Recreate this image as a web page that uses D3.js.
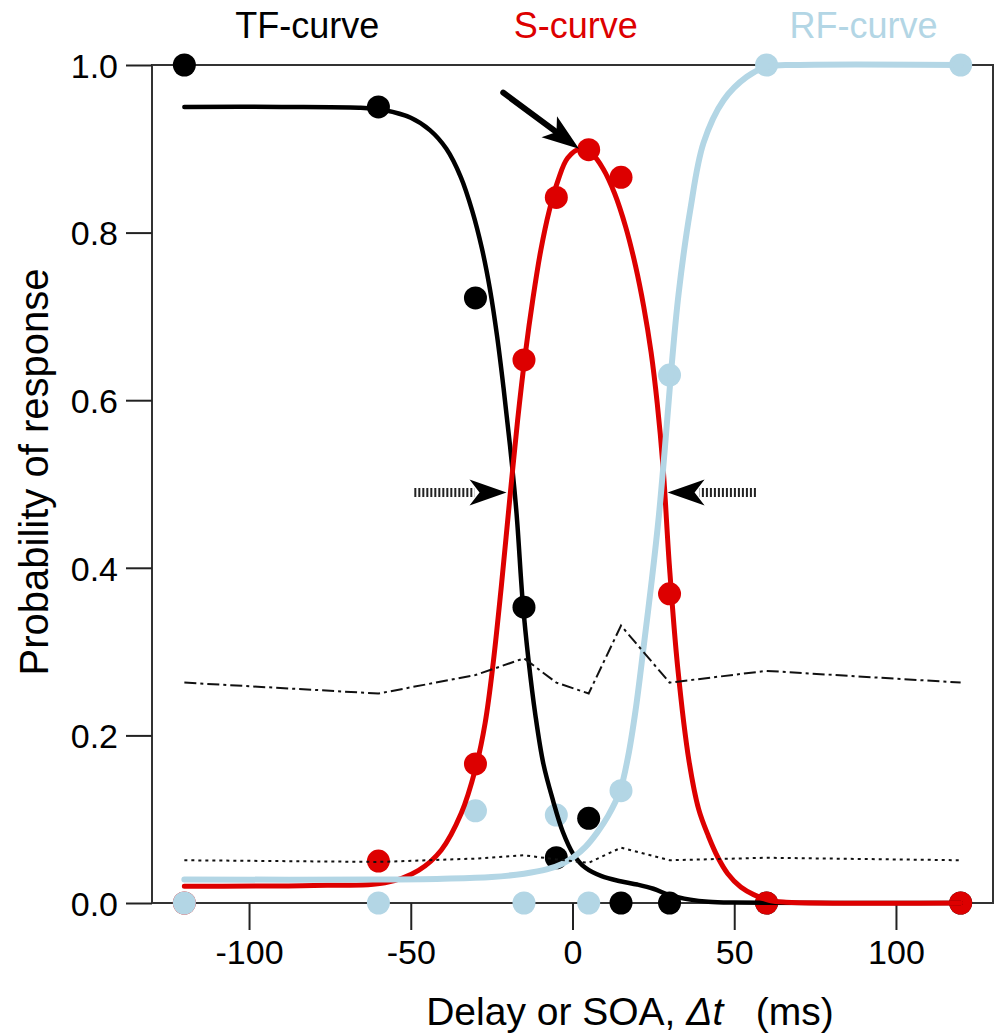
<!DOCTYPE html>
<html>
<head>
<meta charset="utf-8">
<script src="https://cdn.jsdelivr.net/npm/d3@7"></script>
<style>
  html, body { margin: 0; padding: 0; background: #fff; }
  svg { display: block; font-family: "Liberation Sans", Arial, Helvetica, sans-serif; }
</style>
</head>
<body>
<svg id="chart" width="1000" height="1033"></svg>
<script>
// ---------------- data ----------------
const soa = [-120, -60, -30, -15, -5, 5, 15, 30, 60, 120];
const tfPoints = [1.0, 0.95, 0.722, 0.353, 0.054, 0.101, 0.0, 0.0, 0.0, 0.0];
const sPoints  = [0.0, 0.050, 0.166, 0.648, 0.842, 0.899, 0.866, 0.369, 0.0, 0.0];
const rfPoints = [0.0, 0.0, 0.110, 0.0, 0.105, 0.0, 0.134, 0.630, 1.0, 1.0];

// fitted curves
const tfCurveX = [-120, -90, -66, -58, -50, -44, -39, -34.5, -31, -28, -25.5, -23.3, -21.3, -19.3, -17.3, -15.4, -13.6, -11.5, -9, -6, -3, 0.3, 4, 9, 14.8, 20, 25, 30, 36.4, 42, 50, 120];
const tfCurveY = [0.950, 0.950, 0.949, 0.946, 0.937, 0.922, 0.900, 0.866, 0.826, 0.781, 0.732, 0.676, 0.614, 0.545, 0.465, 0.360, 0.290, 0.225, 0.166, 0.122, 0.085, 0.058, 0.042, 0.032, 0.026, 0.022, 0.017, 0.0095, 0.004, 0.0015, 0.0005, 0.0];

const sCurveX = [-120, -80, -58, -47.6, -40.6, -34.4, -30, -27, -24.5, -22, -19.5, -17, -14.6, -12.2, -9.8, -7.2, -4.5, -1.5, 2.5, 6, 9.5, 13, 16.5, 19.5, 22, 24.3, 26.2, 28, 30, 32.5, 36, 39, 42, 45, 48, 52, 56, 61, 66, 120];
const sCurveY = [0.020, 0.021, 0.024, 0.039, 0.063, 0.107, 0.160, 0.215, 0.287, 0.378, 0.478, 0.575, 0.655, 0.722, 0.779, 0.826, 0.862, 0.889, 0.900, 0.894, 0.876, 0.847, 0.806, 0.760, 0.712, 0.657, 0.596, 0.520, 0.400, 0.282, 0.170, 0.112, 0.080, 0.054, 0.035, 0.019, 0.010, 0.003, 0.001, 0.0];

const rfCurveX = [-120, -60, -40, -25, -15, -8, -3, 0.4, 4, 7.6, 11, 14.7, 17.2, 19.5, 22, 24.5, 26.7, 28.5, 30.4, 32.8, 36.4, 40.5, 46.7, 53.9, 60.1, 70, 120];
const rfCurveY = [0.028, 0.028, 0.029, 0.031, 0.035, 0.040, 0.047, 0.055, 0.067, 0.084, 0.104, 0.134, 0.175, 0.230, 0.306, 0.385, 0.462, 0.540, 0.630, 0.727, 0.827, 0.907, 0.958, 0.986, 0.998, 1.0, 1.0];

// confidence-type reference lines
const upperLineY = [0.263, 0.250, 0.272, 0.292, 0.263, 0.250, 0.331, 0.263, 0.277, 0.263];
const lowerLineY = [0.051, 0.049, 0.053, 0.057, 0.052, 0.048, 0.066, 0.051, 0.054, 0.051];

const xTicks = [-100, -50, 0, 50, 100];
const yTicks = [0.0, 0.2, 0.4, 0.6, 0.8, 1.0];

const seriesLabels = [
  { text: "TF-curve", x: -82, color: "#000000" },
  { text: "S-curve",  x: 1,   color: "#dd0000" },
  { text: "RF-curve", x: 90,  color: "#b3d6e5" }
];

// annotation arrows, in data units
const bigArrow = { x1: -21.4, y1: 0.967, x2: 2.0, y2: 0.900 };
const halfArrows = [
  { x1: -48.9, x2: -20.4, y: 0.49 },
  { x1: 56.7,  x2: 29.4,  y: 0.49 }
];

// ---------------- drawing ----------------
const RED = "#dd0000", BLUE = "#b3d6e5", BLACK = "#000000";
const svg = d3.select("#chart");
const x = d3.scaleLinear().domain([-130, 130]).range([152, 993]);
const y = d3.scaleLinear().domain([0, 1]).range([903, 65]);

// frame
svg.append("rect")
  .attr("x", x(-130)).attr("y", y(1))
  .attr("width", x(130) - x(-130)).attr("height", y(0) - y(1))
  .attr("fill", "none").attr("stroke", "#333").attr("stroke-width", 2);

// axes
const xAxis = svg.append("g").attr("transform", `translate(0,${y(0)})`)
  .call(d3.axisBottom(x).tickValues(xTicks).tickSize(27).tickPadding(10).tickFormat(d => String(d)));
const yAxis = svg.append("g").attr("transform", `translate(${x(-130)},0)`)
  .call(d3.axisLeft(y).tickValues(yTicks).tickSize(26).tickPadding(8).tickFormat(d => d.toFixed(1)));
[xAxis, yAxis].forEach(g => {
  g.select(".domain").remove();
  g.selectAll(".tick line").attr("stroke", "#222").attr("stroke-width", 2);
  g.selectAll(".tick text").attr("fill", "#000").style("font-size", "34px")
    .style("font-family", "'Liberation Sans', Arial, sans-serif");
});
yAxis.selectAll(".tick text").attr("dy", "0.36em");

// axis titles
svg.append("text")
  .attr("x", 630).attr("y", 1025)
  .attr("text-anchor", "middle")
  .style("font-size", "39px")
  .html('Delay or SOA, <tspan font-style="italic">\u0394t</tspan>\u00a0\u00a0\u00a0(ms)');
svg.append("text")
  .attr("transform", `translate(48,${472}) rotate(-90)`)
  .attr("text-anchor", "middle")
  .style("font-size", "40px")
  .text("Probability of response");

// series labels
seriesLabels.forEach(l => {
  svg.append("text").attr("x", x(l.x)).attr("y", 38)
    .attr("text-anchor", "middle").attr("fill", l.color)
    .style("font-size", "36px").text(l.text);
});

const line = d3.line().x(d => x(d[0])).y(d => y(d[1])).curve(d3.curveCatmullRom.alpha(0.5));
const zip = (a, b) => a.map((v, i) => [v, b[i]]);

// data dots
const dotSets = [[tfPoints, BLACK], [sPoints, RED], [rfPoints, BLUE]];
dotSets.forEach(([vals, c]) => {
  svg.append("g").selectAll("circle").data(zip(soa, vals)).join("circle")
    .attr("cx", d => x(d[0])).attr("cy", d => y(d[1])).attr("r", 11.5).attr("fill", c);
});

// fitted curves
[[tfCurveX, tfCurveY, BLACK, 4.5], [sCurveX, sCurveY, RED, 5], [rfCurveX, rfCurveY, BLUE, 6]].forEach(([xs, ys, c, w]) => {
  svg.append("path").datum(zip(xs, ys)).attr("d", line)
    .attr("fill", "none").attr("stroke", c).attr("stroke-width", w)
    .attr("stroke-linecap", "round").attr("stroke-linejoin", "round");
});

// reference lines
const poly = d3.line().x(d => x(d[0])).y(d => y(d[1]));
svg.append("path").datum(zip(soa, upperLineY)).attr("d", poly)
  .attr("fill", "none").attr("stroke", "#111").attr("stroke-width", 2)
  .attr("stroke-dasharray", "12,4,3,4");
svg.append("path").datum(zip(soa, lowerLineY)).attr("d", poly)
  .attr("fill", "none").attr("stroke", "#111").attr("stroke-width", 2)
  .attr("stroke-dasharray", "3,4");

// arrowhead helper: tip (tx,ty), direction from (fx,fy)
function arrowHead(fx, fy, tx, ty, len, half, notch) {
  const a = Math.atan2(ty - fy, tx - fx);
  const ux = Math.cos(a), uy = Math.sin(a);
  const px = -uy, py = ux;
  const bx = tx - ux * len, by = ty - uy * len;
  const nx = tx - ux * (len - notch), ny = ty - uy * (len - notch);
  return `M${tx},${ty}L${bx + px * half},${by + py * half}L${nx},${ny}L${bx - px * half},${by - py * half}Z`;
}

// big arrow
{
  const fx = x(bigArrow.x1), fy = y(bigArrow.y1), tx = x(bigArrow.x2), ty = y(bigArrow.y2);
  const a = Math.atan2(ty - fy, tx - fx);
  svg.append("line").attr("x1", fx).attr("y1", fy)
    .attr("x2", tx - Math.cos(a) * 25).attr("y2", ty - Math.sin(a) * 25)
    .attr("stroke", "#000").attr("stroke-width", 6).attr("stroke-linecap", "round");
  svg.append("path").attr("d", arrowHead(fx, fy, tx, ty, 37, 13, 9)).attr("fill", "#000");
}

// hatched half-arrows
halfArrows.forEach(h => {
  const fx = x(h.x1), tx = x(h.x2), yy = y(h.y);
  const dir = Math.sign(tx - fx);
  svg.append("line").attr("x1", fx).attr("y1", yy).attr("x2", tx - dir * 32).attr("y2", yy)
    .attr("stroke", "#222").attr("stroke-width", 9).attr("stroke-dasharray", "2,2");
  svg.append("path").attr("d", arrowHead(fx, yy, tx, yy, 37, 13, 10)).attr("fill", "#000");
});
</script>
</body>
</html>
